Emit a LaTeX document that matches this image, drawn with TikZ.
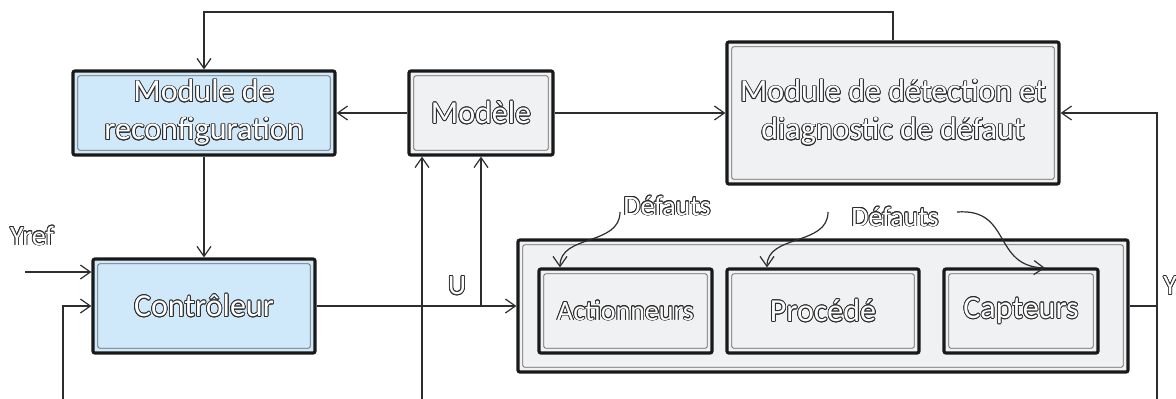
\documentclass[tikz,border=0pt]{standalone}
\usepackage{fontspec}
\setmainfont{Carlito}
\usepackage{xcolor}
\usepackage{contour}
\usetikzlibrary{arrows.meta}
\usetikzlibrary{calc}
\contourlength{0.4pt}
\definecolor{bleu}{RGB}{208,233,250}
\definecolor{gris}{RGB}{240,241,243}
\definecolor{trait}{RGB}{45,45,45}
\newcommand{\creux}[1]{{\color{white}\contour{trait}{#1}}}

\begin{document}
\begin{tikzpicture}[x=0.5pt,y=-0.5pt,
    box/.style={draw=black!90,line width=1.6pt,rounded corners=1pt,inner sep=0pt,align=center,
      font=\fontsize{16}{19}\selectfont,
      path picture={\draw[line width=0.4pt,black!60]
        ([shift={(2.4pt,-2.4pt)}]path picture bounding box.north west) rectangle
        ([shift={(-2.4pt,2.4pt)}]path picture bounding box.south east);}},
    lien/.style={draw=trait,line width=0.6pt},
    fl/.style={lien,-{Straight Barb[length=5pt,width=7pt]}},
    lbl/.style={font=\fontsize{14}{16}\selectfont,inner sep=0pt}]
    \useasboundingbox (0,0) rectangle (1176,398);
    % blocs
    \node[box,fill=bleu,minimum width=131pt,minimum height=42pt] (reconf) at (204,113) {\creux{Module de}\\\creux{reconfiguration}};
    \node[box,fill=gris,minimum width=72pt,minimum height=42pt] (modele) at (481,113) {\creux{Modèle}};
    \node[box,fill=gris,minimum width=166pt,minimum height=71pt] (detect) at (893,113) {\creux{Module de détection et}\\\creux{diagnostic de défaut}};
    \node[box,fill=bleu,minimum width=111pt,minimum height=47pt] (ctrl) at (204,306) {\creux{Contrôleur}};
    \node[box,fill=gris,minimum width=305pt,minimum height=66pt] (proc) at (823,306) {};
    \node[box,fill=gris,font=\fontsize{14}{16}\selectfont,minimum width=86.5pt,minimum height=42pt] (act) at (625.5,311) {\creux{Actionneurs}};
    \node[box,fill=gris,minimum width=96pt,minimum height=42pt] (procede) at (823,311) {\creux{Procédé}};
    \node[box,fill=gris,minimum width=77pt,minimum height=42pt] (capt) at (1021,311) {\creux{Capteurs}};
    % etiquettes
    \node[lbl] (yref) at (32,236) {\creux{Yref}};
    \node[lbl] (u) at (457,286) {\creux{U}};
    \node[lbl,anchor=west] (y) at (1163,286) {\creux{Y}};
    \node[lbl] (def1) at (667,206) {\creux{Défauts}};
    \node[lbl] (def2) at (895,217) {\creux{Défauts}};
    % points
    \coordinate (haut) at (893,12);
    \coordinate (entree) at (25,272);
    \coordinate (bas1) at (63,405);
    \coordinate (bas2) at (422,405);
    \coordinate (bas3) at (1157,405);
    \coordinate (sortie) at (1157,306);
    \coordinate (nu) at (481,306);
    % liaisons
    \draw[fl] (detect.north) -- (haut) -| (reconf.north);
    \draw[fl] (modele.west) -- (reconf.east);
    \draw[fl] (modele.east) -- (detect.west);
    \draw[fl] (reconf.south) -- (ctrl.north);
    \draw[fl] (entree) -- (entree -| ctrl.west);
    \draw[fl] (bas1) |- (ctrl.west);
    \draw[fl] (ctrl.east) -- (proc.west);
    \draw[fl] (nu) -- (modele.south);
    \draw[fl] (bas2) -- (bas2 |- modele.south);
    \draw[lien] (proc.east) -- (sortie);
    \draw[fl] (bas3) |- (detect.east);
    % defauts
    \draw[fl] (620,212) .. controls (620,246) and (560,234) .. (act.north -| 560,0);
    \draw[fl] (828,212) .. controls (828,246) and (767,234) .. (procede.north -| 767,0);
    \draw[fl] (957,212) .. controls (1012,208) and (992,266) .. (1045,268);
\end{tikzpicture}
\end{document}
